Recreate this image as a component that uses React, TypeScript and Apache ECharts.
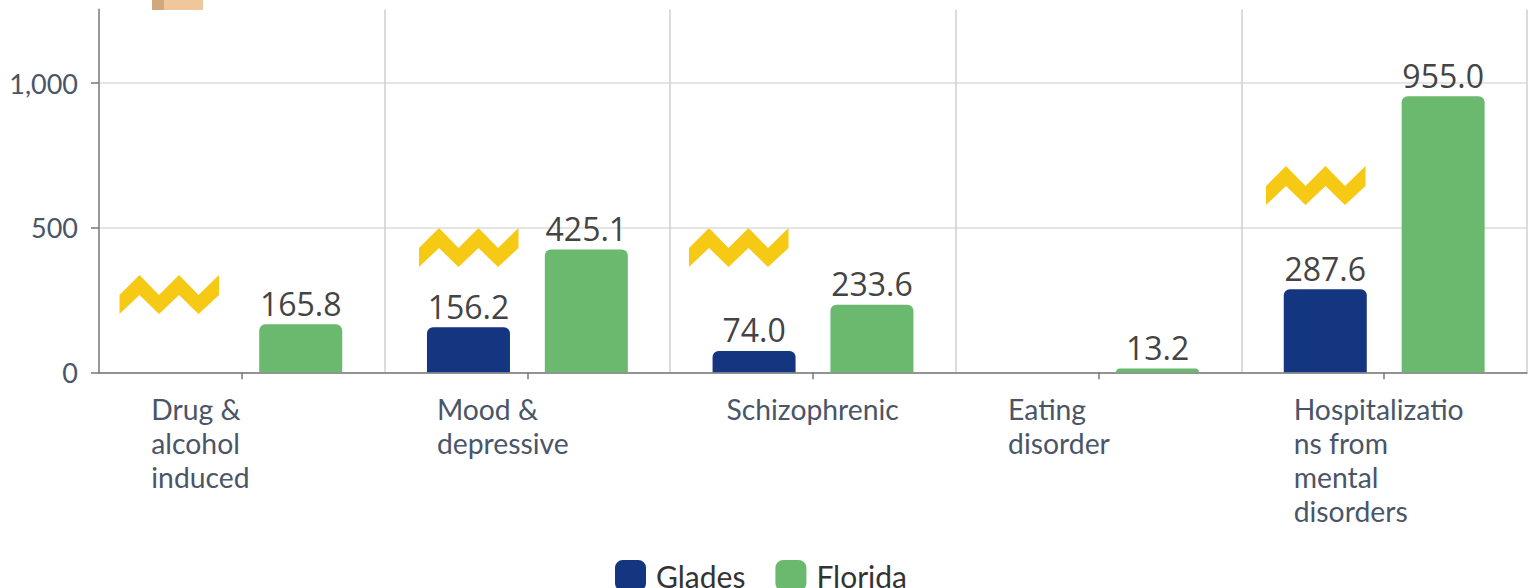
import React, { useEffect, useRef } from "react";
import * as echarts from "echarts";

const categories = ["Drug &\nalcohol\ninduced", "Mood &\ndepressive", "Schizophrenic", "Eating\ndisorder", "Hospitalizatio\nns from\nmental\ndisorders"];
const glades = [null, 156.2, 74.0, null, 287.6];
const florida = [165.8, 425.1, 233.6, 13.2, 955.0];
const zigzagOffsets = [[0, 0], [299.5, -47], [569.5, -47], [1146.5, -109]];
const zigzagPoints = [[119.5, 295], [139.5, 275], [159, 295], [179, 275], [198.5, 295], [219, 275], [219, 295], [198.5, 314], [179, 295], [159, 314], [139.5, 295], [119.5, 314]];

const labelColor = "#4a5568";

export default function App() {
  const ref = useRef<HTMLDivElement>(null);
  useEffect(() => {
    const chart = echarts.init(ref.current!, null, { renderer: "svg" });
    const barLabel = {
      show: true,
      position: "top" as const,
      distance: 5,
      fontFamily: "Open Sans",
      fontSize: 32,
      color: "#444444",
      formatter: (p: any) => Number(p.value).toFixed(1),
    };
    chart.setOption({
      animation: false,
      grid: { left: 99, right: 4, top: 9.5, bottom: 215.7, containLabel: false },
      legend: {
        data: ["Glades", "Florida"],
        left: 615,
        top: 560,
        padding: 0,
        itemWidth: 31,
        itemHeight: 31,
        itemGap: 30,
        icon: "roundRect",
        textStyle: { fontFamily: "Lato", fontSize: 30, color: "#333333", padding: [2, 0, 0, 5] },
      },
      xAxis: {
        type: "category",
        data: categories,
        axisLine: { lineStyle: { color: "#777777", width: 1.5 } },
        axisTick: { show: true, alignWithLabel: true, length: 7, lineStyle: { color: "#777777", width: 1.5 } },
        splitLine: { show: true, lineStyle: { color: "#cfcfcf", width: 1.5 } },
        axisLabel: {
          interval: 0,
          margin: 20,
          align: "center",
          verticalAlign: "top",
          formatter: (v: string) => v.split("\n").map((l) => `{${v === "Schizophrenic" ? "s" : "a"}|${l}}`).join("\n"),
          rich: {
            a: { width: 181, align: "left", fontFamily: "Lato", fontSize: 28.3, lineHeight: 34, color: labelColor },
            s: { width: 173, align: "left", fontFamily: "Lato", fontSize: 28.3, lineHeight: 34, color: labelColor },
          },
        },
      },
      yAxis: {
        type: "value",
        min: 0,
        max: 1255,
        interval: 500,
        axisLine: { show: true, lineStyle: { color: "#999999", width: 2 } },
        axisTick: { show: true, length: 8, lineStyle: { color: "#777777", width: 1.5 } },
        splitLine: { show: true, showMaxLine: false, lineStyle: { color: "#dddddd", width: 1.5 } },
        axisLabel: {
          margin: 21,
          showMaxLabel: false,
          fontFamily: "Lato",
          fontSize: 27,
          color: labelColor,
          padding: [3, 0, 0, 0],
          formatter: (v: number) => v.toLocaleString("en-US"),
        },
      },
      series: [
        { name: "Glades", type: "bar", data: glades, barWidth: 83, barGap: "42%", itemStyle: { color: "#14357f", borderRadius: [6, 6, 0, 0] }, label: barLabel },
        { name: "Florida", type: "bar", data: florida, barWidth: 83, itemStyle: { color: "#6ab96f", borderRadius: [6, 6, 0, 0] }, label: barLabel },
      ],
      graphic: [
        { type: "rect", shape: { x: 152, y: 0, width: 51, height: 10 }, style: { fill: "#f0c79c" }, silent: true },
        { type: "rect", shape: { x: 152, y: 0, width: 12, height: 10 }, style: { fill: "#d0a77f" }, silent: true },
        ...zigzagOffsets.map(([x, y]) => ({
          type: "polygon",
          x,
          y,
          shape: { points: zigzagPoints },
          style: { fill: "#f6c915" },
          silent: true,
        })),
      ],
    });
    return () => chart.dispose();
  }, []);
  return <div ref={ref} style={{ position: "absolute", left: 0, top: 0, width: 1531, height: 588, overflow: "hidden" }} />;
}
